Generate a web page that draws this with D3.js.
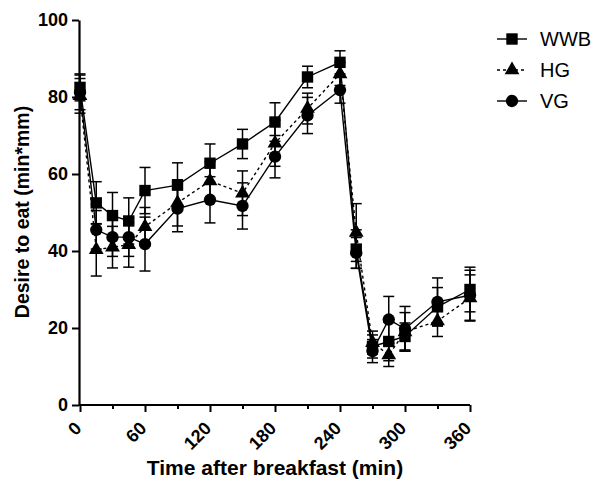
<!DOCTYPE html>
<html><head><meta charset="utf-8">
<script src="https://cdn.jsdelivr.net/npm/d3@7"></script>
<style>body{margin:0;background:#fff}svg{display:block}</style>
</head><body>
<svg id="c" width="599" height="484"></svg>
<script>
const times = [0,15,30,45,60,90,120,150,180,210,240,255,270,285,300,330,360];
const wwbMean = [82.5,52.5,49.2,47.8,55.7,57.1,62.8,67.8,73.5,85.2,89.0,40.5,15.2,16.5,17.8,25.5,30.0];
const wwbSem  = [3.5,5.5,6.0,6.0,6.0,5.8,5.0,3.8,5.0,2.8,3.0,5.0,3.0,5.0,3.5,5.0,5.8];
const hgMean  = [80.3,40.3,41.0,41.6,46.3,52.5,58.2,55.0,68.0,77.0,86.0,44.8,16.2,13.0,19.0,21.8,27.8];
const hgSem   = [4.5,6.8,5.4,5.8,5.0,6.0,5.0,5.8,6.0,4.0,3.0,7.5,3.0,3.0,5.0,4.0,6.0];
const vgMean  = [81.2,45.5,43.6,43.6,41.8,51.0,53.3,51.7,64.5,75.2,81.8,39.5,14.0,22.2,19.8,26.8,28.5];
const vgSem   = [4.5,5.0,5.0,5.0,7.0,6.0,6.0,6.0,5.5,4.7,3.4,4.0,3.0,6.0,5.8,6.2,6.5];
const seriesNames = ["WWB","HG","VG"];
const xTicks = [0,60,120,180,240,300,360];
const xMinor = [30,90,150,210,270,330];
const yTicks = [0,20,40,60,80,100];

const FONT = "Liberation Sans, Arial, sans-serif";
const svg = d3.select("#c");
const x = d3.scaleLinear().domain([0,360]).range([80,470]);
const y = d3.scaleLinear().domain([0,100]).range([405,20]);

const series = [
  {name:"WWB", mean:wwbMean, sem:wwbSem, dash:null, sym:d3.symbolSquare, size:130},
  {name:"HG", mean:hgMean, sem:hgSem, dash:"3,3", sym:d3.symbolTriangle, size:95},
  {name:"VG", mean:vgMean, sem:vgSem, dash:null, sym:d3.symbolCircle, size:120}
];

// x axis
const xAxis = svg.append("g").attr("transform","translate(0,405)");
xAxis.call(d3.axisBottom(x).tickValues(xTicks).tickSize(7).tickSizeOuter(0).tickFormat(() => ""));
xAxis.select("path.domain").attr("d","M79,0H470").attr("stroke-width",2.2);
const xMin = svg.append("g").attr("transform","translate(0,405)");
xMin.call(d3.axisBottom(x).tickValues(xMinor).tickSize(4).tickSizeOuter(0).tickFormat(() => ""));
xMin.select("path.domain").remove();
svg.selectAll(".tick line").attr("stroke-width",2);

const xLabels = svg.append("g").attr("class","xlabels");
xTicks.forEach(d => {
  xLabels.append("text")
    .attr("x",0).attr("y",0)
    .attr("transform","translate(" + (x(d)-2) + ",425) rotate(-45)")
    .attr("text-anchor","end").attr("dy","0.35em")
    .attr("font-family",FONT).attr("font-weight","bold")
    .attr("font-size",18).attr("fill","#000").text(String(d));
});

// y axis
const yAxis = svg.append("g").attr("transform","translate(79,0)");
yAxis.call(d3.axisLeft(y).tickValues(yTicks).tickSize(7).tickSizeOuter(0).tickPadding(4));
yAxis.select("path.domain").attr("stroke-width",2.2);
yAxis.selectAll("line").attr("stroke-width",2);
yAxis.selectAll("text").attr("font-family",FONT)
  .attr("font-weight","bold").attr("font-size",18).attr("fill","#000");

// series
series.forEach(s => {
  const g = svg.append("g");
  const pts = times.map((t,i)=>({t, m:s.mean[i], e:s.sem[i]}));
  g.append("path").datum(pts)
    .attr("d", d3.line().x(d=>x(d.t)).y(d=>y(d.m)))
    .attr("fill","none").attr("stroke","#000").attr("stroke-width",1.4)
    .attr("stroke-dasharray", s.dash);
  const eb = g.selectAll(".eb").data(pts).enter().append("g");
  eb.append("line").attr("x1",d=>x(d.t)).attr("x2",d=>x(d.t))
    .attr("y1",d=>y(d.m+d.e)).attr("y2",d=>y(d.m-d.e))
    .attr("stroke","#000").attr("stroke-width",1.5);
  eb.append("line").attr("x1",d=>x(d.t)-5.5).attr("x2",d=>x(d.t)+5.5)
    .attr("y1",d=>y(d.m+d.e)).attr("y2",d=>y(d.m+d.e))
    .attr("stroke","#000").attr("stroke-width",1.5);
  eb.append("line").attr("x1",d=>x(d.t)-5.5).attr("x2",d=>x(d.t)+5.5)
    .attr("y1",d=>y(d.m-d.e)).attr("y2",d=>y(d.m-d.e))
    .attr("stroke","#000").attr("stroke-width",1.5);
  g.selectAll(".pt").data(pts).enter().append("path")
    .attr("transform",d=>`translate(${x(d.t)},${y(d.m)})`)
    .attr("d", d3.symbol().type(s.sym).size(s.size)()).attr("fill","#000");
});

// legend
const leg = svg.append("g");
series.forEach((s,i)=>{
  const ly = 39 + i*31;
  leg.append("line").attr("x1",497).attr("x2",527).attr("y1",ly).attr("y2",ly)
    .attr("stroke","#000").attr("stroke-width",1.4).attr("stroke-dasharray",s.dash);
  leg.append("path").attr("transform",`translate(512,${ly})`)
    .attr("d", d3.symbol().type(s.sym).size(s.size)()).attr("fill","#000");
  leg.append("text").attr("x",540).attr("y",ly).attr("dy","0.35em")
    .attr("font-family",FONT).attr("font-size",20)
    .text(seriesNames[i]);
});

// axis titles
svg.append("text").attr("transform","translate(22,212) rotate(-90)")
  .attr("text-anchor","middle").attr("dy","0.35em")
  .attr("font-family",FONT).attr("font-weight","bold")
  .attr("font-size",19.5).text("Desire to eat (min*mm)");
svg.append("text").attr("x",275).attr("y",468)
  .attr("text-anchor","middle").attr("dy","0.35em")
  .attr("font-family",FONT).attr("font-weight","bold")
  .attr("font-size",21).text("Time after breakfast (min)");
</script>
</body></html>
